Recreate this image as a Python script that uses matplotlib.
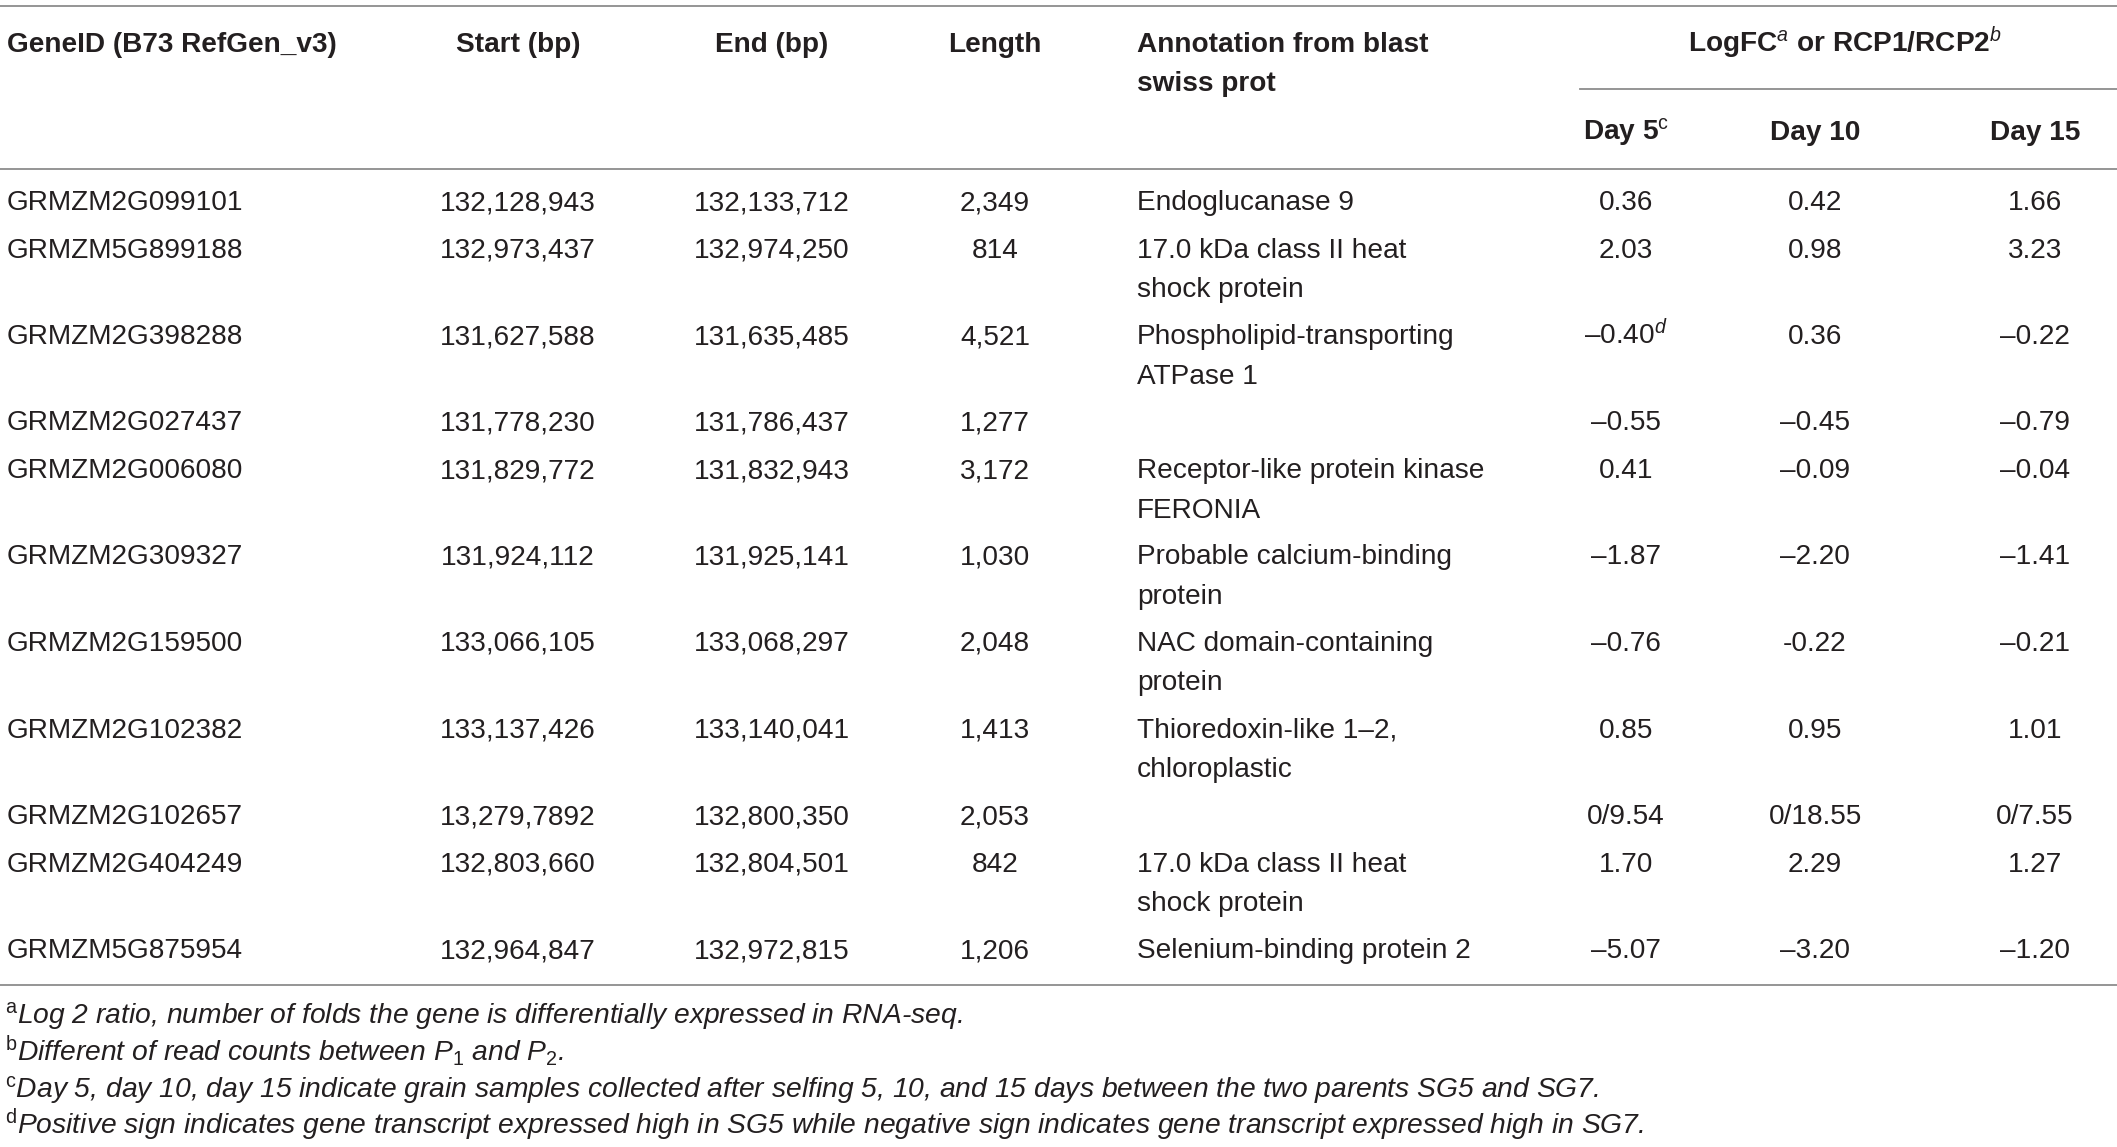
import matplotlib
matplotlib.use("Agg")
import matplotlib.pyplot as plt

plt.rcParams['font.family'] = ['Liberation Sans', 'DejaVu Sans']
plt.rcParams['mathtext.fontset'] = 'custom'
plt.rcParams['mathtext.rm'] = 'Liberation Sans'
plt.rcParams['mathtext.it'] = 'Liberation Sans:italic'
plt.rcParams['mathtext.bf'] = 'Liberation Sans:bold'

# ---------------- data ----------------
headers = ["GeneID (B73 RefGen_v3)", "Start (bp)", "End (bp)", "Length",
           "Annotation from blast\nswiss prot"]
group_header = r"LogFC$^{a}$ or RCP1/RCP2$^{b}$"
day_headers = [r"Day 5$^{\mathrm{c}}$", "Day 10", "Day 15"]

gene_ids = ["GRMZM2G099101", "GRMZM5G899188", "GRMZM2G398288", "GRMZM2G027437",
            "GRMZM2G006080", "GRMZM2G309327", "GRMZM2G159500", "GRMZM2G102382",
            "GRMZM2G102657", "GRMZM2G404249", "GRMZM5G875954"]
starts = ["132,128,943", "132,973,437", "131,627,588", "131,778,230", "131,829,772",
          "131,924,112", "133,066,105", "133,137,426", "13,279,7892", "132,803,660",
          "132,964,847"]
ends = ["132,133,712", "132,974,250", "131,635,485", "131,786,437", "131,832,943",
        "131,925,141", "133,068,297", "133,140,041", "132,800,350", "132,804,501",
        "132,972,815"]
lengths = ["2,349", "814", "4,521", "1,277", "3,172", "1,030", "2,048", "1,413",
           "2,053", "842", "1,206"]
annotations = ["Endoglucanase 9", "17.0 kDa class II heat\nshock protein",
               "Phospholipid-transporting\nATPase 1", "",
               "Receptor-like protein kinase\nFERONIA",
               "Probable calcium-binding\nprotein", "NAC domain-containing\nprotein",
               "Thioredoxin-like 1\u20132,\nchloroplastic", "",
               "17.0 kDa class II heat\nshock protein", "Selenium-binding protein 2"]
day5 = ["0.36", "2.03", "\u20130.40$^{d}$", "\u20130.55", "0.41", "\u20131.87",
        "\u20130.76", "0.85", "0/9.54", "1.70", "\u20135.07"]
day10 = ["0.42", "0.98", "0.36", "\u20130.45", "\u20130.09", "\u20132.20", "-0.22",
         "0.95", "0/18.55", "2.29", "\u20133.20"]
day15 = ["1.66", "3.23", "\u20130.22", "\u20130.79", "\u20130.04", "\u20131.41",
         "\u20130.21", "1.01", "0/7.55", "1.27", "\u20131.20"]
footnotes = [
    r"$^{\mathrm{a}}$Log 2 ratio, number of folds the gene is differentially expressed in RNA-seq.",
    r"$^{\mathrm{b}}$Different of read counts between P$_{\mathrm{1}}$ and P$_{\mathrm{2}}$.",
    r"$^{\mathrm{c}}$Day 5, day 10, day 15 indicate grain samples collected after selfing 5, 10, and 15 days between the two parents SG5 and SG7.",
    r"$^{\mathrm{d}}$Positive sign indicates gene transcript expressed high in SG5 while negative sign indicates gene transcript expressed high in SG7.",
]

# ---------------- layout ----------------
W, H = 2117, 1147
fig = plt.figure(figsize=(W / 100, H / 100), dpi=100)
ax = fig.add_axes([0, 0, 1, 1])
ax.set_xlim(0, W)
ax.set_ylim(H, 0)
ax.axis('off')

TXT = '#231f20'
LINE = '#8c8c8c'
FS = 20.2
FFS = 20.3
half = 10

# lines
ax.plot([0, W], [6, 6], color=LINE, lw=1.3)
ax.plot([1580, W], [89, 89], color=LINE, lw=1.3)
ax.plot([0, W], [169, 169], color=LINE, lw=1.3)
ax.plot([0, W], [985, 985], color=LINE, lw=1.3)

col_x = [7, 518, 772, 995, 1137]
col_ha = ['left', 'center', 'center', 'center', 'left']
day_x = [1626, 1815, 2035]

# headers
for h, x, ha in zip(headers, col_x, col_ha):
    for k, line in enumerate(h.split('\n')):
        ax.text(x, 42 + half + 39 * k, line, ha=ha, va='baseline', fontsize=FS,
                fontweight='bold', color=TXT)
ax.text(1845, 42 + half, group_header, ha='center', va='baseline', fontsize=FS,
        fontweight='bold', color=TXT)
for h, x in zip(day_headers, day_x):
    ax.text(x, 130 + half, h, ha='center', va='baseline', fontsize=FS,
            fontweight='bold', color=TXT)

# body
y = 200
for i in range(len(gene_ids)):
    cells = [gene_ids[i], starts[i], ends[i], lengths[i], annotations[i]]
    for c, x, ha in zip(cells, col_x, col_ha):
        for k, line in enumerate(c.split('\n')):
            if line:
                ax.text(x, y + half + 39.5 * k, line, ha=ha, va='baseline',
                        fontsize=FS, color=TXT)
    for vals, x in zip([day5, day10, day15], day_x):
        ax.text(x, y + half, vals[i], ha='center', va='baseline', fontsize=FS,
                color=TXT)
    nlines = max(c.count('\n') + 1 for c in cells)
    y += 47.5 if nlines == 1 else 86.5

# footnotes
for k, f in enumerate(footnotes):
    ax.text(5, 1015 + 9 + 36.7 * k, f, ha='left', va='baseline', fontsize=FFS,
            fontstyle='italic', color=TXT)

fig.savefig('out.png', dpi=100)
